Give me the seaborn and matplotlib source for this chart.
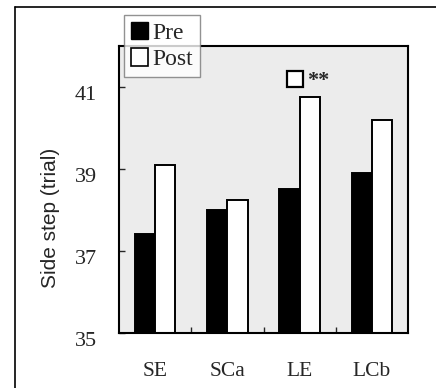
import matplotlib
matplotlib.use("Agg")
import matplotlib.pyplot as plt
import seaborn as sns
import pandas as pd
from matplotlib.lines import Line2D
from matplotlib.patches import Patch
from matplotlib.transforms import ScaledTranslation

categories = ["SE", "SCa", "LE", "LCb"]
pre_values = [37.4, 38.0, 38.5, 38.9]
post_values = [39.1, 38.25, 40.75, 40.2]
series = ["Pre", "Post"]
y_ticks = [35, 37, 39, 41]
sig_group = "LE"
sig_y = 41.2
sig_text = "**"

df = pd.DataFrame({
    "group": categories * 2,
    "phase": ["Pre"] * len(categories) + ["Post"] * len(categories),
    "value": pre_values + post_values,
})

sns.set_style("white")
plt.rcParams["font.family"] = ["Liberation Serif", "DejaVu Serif"]

fig = plt.figure(figsize=(4.36, 3.88), dpi=100)
ax = fig.add_axes([0.273, 0.142, 0.663, 0.740])
ax.set_facecolor("#ececec")

sns.barplot(data=df, x="group", y="value", hue="phase", order=categories,
            hue_order=series, palette={"Pre": "black", "Post": "white"},
            width=0.56, edgecolor="black", linewidth=1.4, ax=ax, legend=False,
            errorbar=None)

ax.set_ylim(35, 42)
ax.set_xlim(-0.5, 3.5)
ax.set_yticks(y_ticks)
ax.set_yticklabels([str(t) for t in y_ticks], fontsize=16)
ax.set_xticks(range(len(categories)))
ax.set_xticklabels(categories, fontsize=15.5)
ax.set_xticks([0.5, 1.5, 2.5], minor=True)
ax.tick_params(axis="x", which="major", length=0, pad=21)
ax.tick_params(axis="x", which="minor", direction="in", length=4, width=1, bottom=True)
ax.tick_params(axis="y", which="major", direction="in", length=4, width=1, left=True, pad=16)
for lab in ax.get_yticklabels():
    lab.set_transform(lab.get_transform() + ScaledTranslation(0, -6 / 100, fig.dpi_scale_trans))
ax.set_xlabel("")
ax.set_ylabel("Side step (trial)", fontsize=15, family=["Liberation Sans", "DejaVu Sans"])
ax.yaxis.set_label_coords(-0.205, 0.40)

for s in ax.spines.values():
    s.set_visible(True)
    s.set_color("black")
    s.set_linewidth(1.5)

# significance marker
gx = categories.index(sig_group)
ax.plot([gx - 0.06], [sig_y], marker="s", markersize=11, markerfacecolor="white",
        markeredgecolor="black", markeredgewidth=1.6, clip_on=False)
ax.text(gx + 0.1, sig_y - 0.05, sig_text, fontsize=16, fontweight="bold", va="center", ha="left")

handles = [Patch(facecolor="black", edgecolor="black", label="Pre"),
           Patch(facecolor="white", edgecolor="black", linewidth=1.2, label="Post")]
leg = ax.legend(handles=handles, loc="upper left", bbox_to_anchor=(0.017, 1.108),
                frameon=True, fancybox=False, fontsize=17, handlelength=0.7,
                handleheight=0.75, handletextpad=0.2, borderpad=0.3, labelspacing=0.2,
                borderaxespad=0)
leg.get_frame().set_edgecolor("#777777")
leg.get_frame().set_linewidth(1.0)
leg.set_zorder(10)

# outer frame lines (top and left)
fig.add_artist(Line2D([15 / 436, 1.0], [1 - 7 / 388, 1 - 7 / 388], color="black", lw=1.2))
fig.add_artist(Line2D([15 / 436, 15 / 436], [0.0, 1 - 7 / 388], color="black", lw=1.2))

fig.savefig("out.png", dpi=100)
